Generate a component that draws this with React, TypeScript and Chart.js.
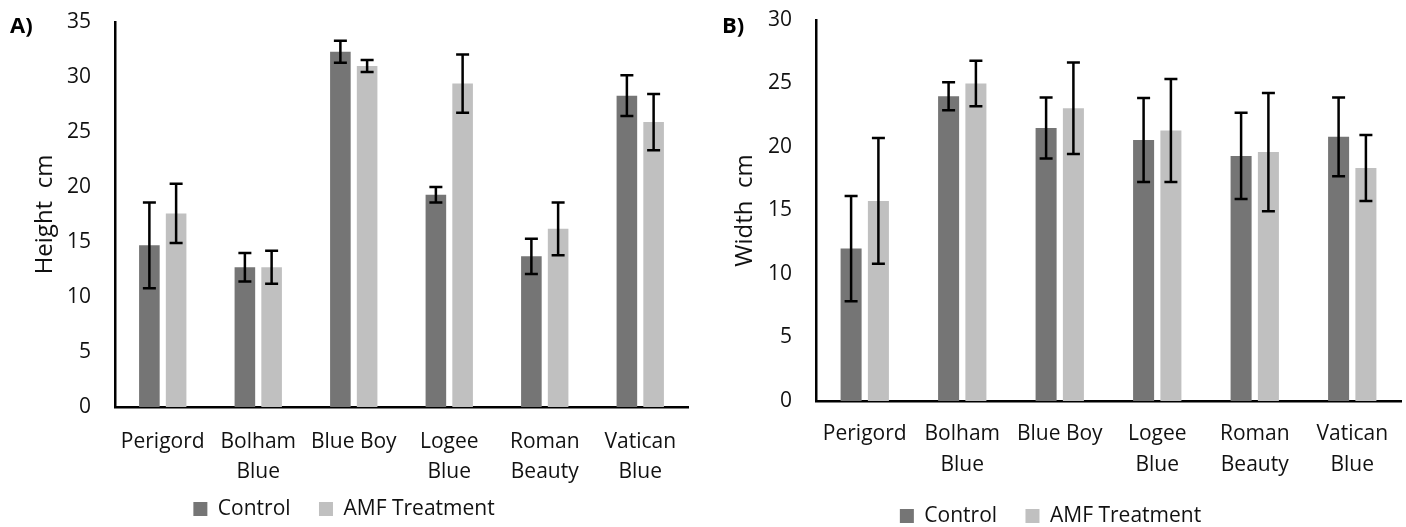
import React, { useEffect, useRef } from "react";
import { Chart, registerables } from "chart.js";

Chart.register(...registerables);

// ---- data ----
const categories: string[][] = [
  ["Perigord"],
  ["Bolham", "Blue"],
  ["Blue Boy"],
  ["Logee", "Blue"],
  ["Roman", "Beauty"],
  ["Vatican", "Blue"],
];
const seriesNames = ["Control", "AMF Treatment"];

const heightControl = [14.7, 12.7, 32.3, 19.3, 13.7, 28.3];
const heightControlErr = [3.9, 1.3, 1.0, 0.7, 1.6, 1.85];
const heightAmf = [17.6, 12.7, 31.0, 29.4, 16.2, 25.9];
const heightAmfErr = [2.7, 1.5, 0.55, 2.65, 2.4, 2.55];

const widthControl = [12.0, 24.0, 21.5, 20.55, 19.3, 20.8];
const widthControlErr = [4.15, 1.1, 2.4, 3.3, 3.4, 3.1];
const widthAmf = [15.75, 25.0, 23.05, 21.3, 19.6, 18.35];
const widthAmfErr = [4.95, 1.8, 3.6, 4.05, 4.65, 2.6];

const heightAxisMax = 35;
const widthAxisMax = 30;
const axisStep = 5;

// ---- style ----
const FONT = "'Open Sans', 'Noto Sans', sans-serif";
const TEXT = "#111111";
const DARK = "#757575";
const LIGHT = "#c0c0c0";

const errorBarPlugin = {
  id: "errorBars",
  afterDatasetsDraw(chart: any) {
    const { ctx } = chart;
    const y = chart.scales.y;
    ctx.save();
    ctx.strokeStyle = "#000";
    ctx.lineWidth = 2.5;
    ctx.lineCap = "butt";
    chart.data.datasets.forEach((ds: any, di: number) => {
      const meta = chart.getDatasetMeta(di);
      const errs: number[] = ds.errors || [];
      meta.data.forEach((bar: any, i: number) => {
        const v = ds.data[i] as number;
        const e = errs[i] || 0;
        const x = bar.x;
        const yt = y.getPixelForValue(v + e);
        const yb = y.getPixelForValue(v - e);
        ctx.beginPath();
        ctx.moveTo(x, yt);
        ctx.lineTo(x, yb);
        ctx.moveTo(x - 6.5, yt);
        ctx.lineTo(x + 6.5, yt);
        ctx.moveTo(x - 6.5, yb);
        ctx.lineTo(x + 6.5, yb);
        ctx.stroke();
      });
    });
    ctx.restore();
  },
};

const panelLabelPlugin = {
  id: "panelLabel",
  afterDraw(chart: any, _args: any, opts: any) {
    const { ctx } = chart;
    ctx.save();
    ctx.font = `bold 22px ${FONT}`;
    ctx.fillStyle = "#000";
    ctx.textBaseline = "alphabetic";
    ctx.fillText(opts.text, opts.x, opts.y);
    ctx.restore();
  },
};

type PanelProps = {
  label: string;
  labelX: number;
  yTitle: string;
  control: number[];
  controlErr: number[];
  amf: number[];
  amfErr: number[];
  yMax: number;
  width: number;
  left: number;
  yAxisWidth: number;
  titlePad: number;
  padRight: number;
  padTop: number;
  xAxisHeight: number;
  xTickPadding: number;
  xLineHeight: number;
  legendMaxHeight: number;
};

function Panel(p: PanelProps) {
  const ref = useRef<HTMLCanvasElement | null>(null);
  useEffect(() => {
    if (!ref.current) return;
    const chart = new Chart(ref.current, {
      type: "bar",
      data: {
        labels: categories,
        datasets: [
          {
            label: seriesNames[0],
            data: p.control,
            errors: p.controlErr,
            backgroundColor: DARK,
            borderWidth: 0,
            categoryPercentage: 0.56,
            barPercentage: 0.77,
          } as any,
          {
            label: seriesNames[1],
            data: p.amf,
            errors: p.amfErr,
            backgroundColor: LIGHT,
            borderWidth: 0,
            categoryPercentage: 0.56,
            barPercentage: 0.77,
          } as any,
        ],
      },
      options: {
        animation: false,
        responsive: false,
        maintainAspectRatio: false,
        layout: { padding: { top: p.padTop, left: 0, right: p.padRight, bottom: 0 } },
        plugins: {
          tooltip: { enabled: false },
          legend: {
            position: "bottom",
            maxHeight: p.legendMaxHeight,
            labels: {
              boxWidth: 14,
              boxHeight: 14,
              padding: 12,
              color: TEXT,
              font: { family: FONT, size: 21 },
              generateLabels: (c: any) => {
                const items = Chart.defaults.plugins.legend.labels.generateLabels(c);
                return items.map((it: any, i: number) =>
                  i < items.length - 1 ? { ...it, text: it.text + "   " } : it
                );
              },
            },
          },
          panelLabel: { text: p.label, x: p.labelX, y: 33 },
        } as any,
        scales: {
          x: {
            grid: { display: false, drawTicks: false },
            border: { display: true, color: "#000", width: 2.5 },
            ticks: {
              color: TEXT,
              font: { family: FONT, size: 21, lineHeight: p.xLineHeight },
              padding: p.xTickPadding,
              maxRotation: 0,
              autoSkip: false,
            },
            afterFit: (s: any) => {
              s.height = p.xAxisHeight;
            },
          },
          y: {
            min: 0,
            max: p.yMax,
            grid: { display: false, drawTicks: false },
            border: { display: true, color: "#000", width: 2.5 },
            ticks: {
              stepSize: axisStep,
              color: TEXT,
              font: { family: FONT, size: 21 },
              padding: 24,
            },
            title: {
              display: true,
              text: p.yTitle,
              color: TEXT,
              font: { family: FONT, size: 24 },
              padding: { top: p.titlePad, bottom: 0 },
            },
            afterFit: (s: any) => {
              s.width = p.yAxisWidth;
              s.paddingTop = 0;
              s.paddingBottom = 0;
            },
          },
        },
      } as any,
      plugins: [errorBarPlugin, panelLabelPlugin],
    });
    return () => chart.destroy();
  }, []);
  return (
    <canvas
      ref={ref}
      width={p.width}
      height={527}
      style={{ position: "absolute", left: p.left, top: 0, width: p.width, height: 527 }}
    />
  );
}

export default function App() {
  return (
    <div
      style={{
        position: "fixed",
        left: 0,
        top: 0,
        width: 1406,
        height: 527,
        background: "#fff",
        overflow: "hidden",
      }}
    >
      <Panel
        label="A)"
        labelX={10}
        yTitle="Height  cm"
        control={heightControl}
        controlErr={heightControlErr}
        amf={heightAmf}
        amfErr={heightAmfErr}
        yMax={heightAxisMax}
        width={700}
        left={0}
        yAxisWidth={115}
        titlePad={31}
        padRight={12}
        padTop={22}
        xAxisHeight={79.5}
        xTickPadding={20}
        xLineHeight={1.43}
        legendMaxHeight={40.5}
      />
      <Panel
        label="B)"
        labelX={22}
        yTitle="Width  cm"
        control={widthControl}
        controlErr={widthControlErr}
        amf={widthAmf}
        amfErr={widthAmfErr}
        yMax={widthAxisMax}
        width={706}
        left={700}
        yAxisWidth={116}
        titlePad={31}
        padRight={5}
        padTop={20}
        xAxisHeight={92.5}
        xTickPadding={17}
        xLineHeight={1.5}
        legendMaxHeight={33.5}
      />
    </div>
  );
}
